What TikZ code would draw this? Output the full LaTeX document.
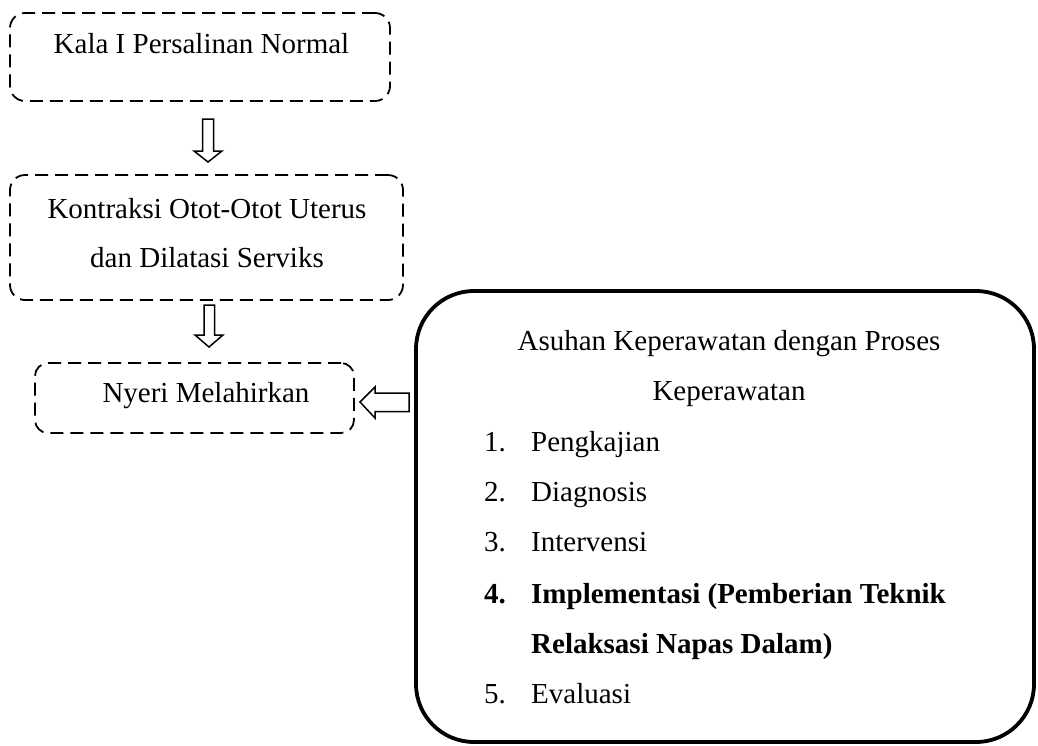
\documentclass[tikz,border=0pt]{standalone}
\usepackage{fontspec}
\setmainfont{Liberation Serif}
\begin{document}
\begin{tikzpicture}[x=1pt,y=-1pt,
  dbox/.style={draw, dash pattern=on 13pt off 7pt, line width=1.8pt, rounded corners=15pt, inner sep=0pt},
  bigbox/.style={draw, line width=3.8pt, rounded corners=58pt, inner sep=0pt},
  txt/.style={font=\fontsize{29}{35}\selectfont, inner sep=0pt, anchor=base},
  item/.style={font=\fontsize{29}{35}\selectfont, inner sep=0pt, anchor=base west},
  blockarrow/.style={draw, line width=1.5pt, fill=white, line join=miter}]
\useasboundingbox (0,0) rectangle (1038,745);

% boxes
\node[dbox, minimum width=380pt, minimum height=88pt] (b1) at (200,57) {};
\node[dbox, minimum width=393pt, minimum height=125pt] (b2) at (206.5,237.5) {};
\node[dbox, minimum width=319pt, minimum height=70pt, rounded corners=13pt] (b3) at (194.5,398) {};
\node[bigbox, minimum width=618pt, minimum height=451pt] (b4) at (725,516.5) {};

% texts
\node[txt] (t1) at (201.5,53) {Kala I Persalinan Normal};
\node[txt] (t2a) at (207,218) {Kontraksi Otot-Otot Uterus};
\node[txt] (t2b) at (207,267) {dan Dilatasi Serviks};
\node[txt] (t3) at (206,402) {Nyeri Melahirkan};

\node[txt] (h1) at (729,350) {Asuhan Keperawatan dengan Proses};
\node[txt] (h2) at (729,400) {Keperawatan};
\node[item] (n1) at (484,451) {1.};
\node[item] (i1) at (531,451) {Pengkajian};
\node[item] (n2) at (484,501) {2.};
\node[item] (i2) at (531,501) {Diagnosis};
\node[item] (n3) at (484,551) {3.};
\node[item] (i3) at (531,551) {Intervensi};
\node[item, font=\fontsize{29}{35}\selectfont\bfseries] (n4) at (484,603) {4.};
\node[item, font=\fontsize{29}{35}\selectfont\bfseries] (i4) at (531,603) {Implementasi (Pemberian Teknik};
\node[item, font=\fontsize{29}{35}\selectfont\bfseries] (i4b) at (531,653) {Relaksasi Napas Dalam)};
\node[item] (n5) at (484,703) {5.};
\node[item] (i5) at (531,703) {Evaluasi};

% block arrows
\draw[blockarrow] (202.5,119) -- (213.5,119) -- (213.5,151) -- (222,151) -- (208,162) -- (194,151) -- (202.5,151) -- cycle;
\draw[blockarrow] (204,305) -- (214.5,305) -- (214.5,335) -- (223,335) -- (209,347) -- (195,335) -- (204,335) -- cycle;
\draw[blockarrow] (409,393) -- (375,393) -- (375,387) -- (360,402) -- (375,418) -- (375,411.5) -- (409,411.5) -- cycle;
\end{tikzpicture}
\end{document}
